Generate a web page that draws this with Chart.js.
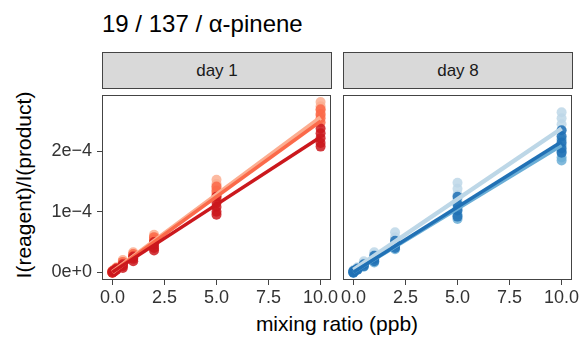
<!DOCTYPE html>
<html>
<head>
<meta charset="utf-8">
<script src="https://cdn.jsdelivr.net/npm/chart.js@4/dist/chart.umd.min.js"></script>
<style>
  body { margin: 0; width: 582px; height: 340px; background: #fff; position: relative; overflow: hidden;
         font-family: "Liberation Sans", Arial, sans-serif; color: #000; }
  .abs { position: absolute; }
  .strip { position: absolute; top: 52px; height: 37px; background: #d9d9d9; border: 1px solid #444;
           box-sizing: border-box; font-size: 17px; color: #1a1a1a; text-align: center; line-height: 36px; }
  canvas { position: absolute; }
</style>
</head>
<body>
<div class="abs" style="left:102px;top:10px;font-size:24px;">19 / 137 / α-pinene</div>
<div class="strip" style="left:102px;width:230px;">day 1</div>
<div class="strip" style="left:343px;width:230px;">day 8</div>
<div class="abs" style="left:0;width:582px;top:312px;text-align:center;font-size:21px;padding-left:92px;box-sizing:border-box;">mixing ratio (ppb)</div>
<div class="abs" style="left:24px;top:185px;font-size:21px;transform:translate(-50%,-50%) rotate(-90deg);white-space:nowrap;">I(reagent)/I(product)</div>
<canvas id="c1" width="340" height="250" style="left:0;top:90px;"></canvas>
<canvas id="c8" width="247" height="250" style="left:335px;top:90px;"></canvas>
<script>
// values in units of 1e-4
const xTicks = [0, 2.5, 5, 7.5, 10];
const yTicks = [0, 1e-4, 2e-4];
const yLabels = ['0e+0', '1e\u22124', '2e\u22124'];

const day1Colors = ['#fcae91', '#fb6a4a', '#cb181d'];
const day8Colors = ['#bdd7e7', '#6baed6', '#2171b5'];

// replicate measurements: [x, y×1e4]
const day1Light = [
  [0,0.02],[0,0],[0,-0.01],[0.1,0.05],[0.1,0.03],[0.2,0.08],[0.2,0.06],
  [0.5,0.2],[0.5,0.17],[0.5,0.14],[1,0.33],[1,0.3],[1,0.27],
  [2,0.62],[2,0.58],[2,0.55],[5,1.53],[5,1.46],[5,1.39],[5,1.32],
  [10,2.82],[10,2.75],[10,2.68],[10,2.6]];
const day1Mid = [
  [0,0.02],[0,0],[0,-0.01],[0.1,0.04],[0.1,0.02],[0.2,0.07],[0.2,0.05],
  [0.5,0.17],[0.5,0.14],[0.5,0.11],[1,0.3],[1,0.27],[1,0.24],
  [2,0.58],[2,0.54],[2,0.5],[5,1.42],[5,1.35],[5,1.28],[5,1.22],
  [10,2.7],[10,2.62],[10,2.55],[10,2.48]];
const day1Dark = [
  [0,0.01],[0,-0.01],[0.1,0.03],[0.1,0.01],[0.2,0.06],[0.2,0.04],
  [0.5,0.13],[0.5,0.1],[0.5,0.07],[1,0.26],[1,0.22],[1,0.18],
  [2,0.5],[2,0.45],[2,0.4],[2,0.36],[5,1.25],[5,1.15],[5,1.08],[5,1.0],[5,0.95],
  [10,2.38],[10,2.3],[10,2.22],[10,2.14],[10,2.08]];
const day8Light = [
  [0,0.03],[0,0.01],[0.1,0.05],[0.2,0.08],[0.5,0.18],[0.5,0.15],
  [1,0.33],[1,0.29],[2,0.66],[2,0.58],[2,0.52],
  [5,1.48],[5,1.38],[5,1.28],[5,1.2],[10,2.65],[10,2.55],[10,2.45],[10,2.35]];
const day8Mid = [
  [0,0.01],[0,-0.01],[0.1,0.03],[0.2,0.05],[0.5,0.12],[0.5,0.09],
  [1,0.24],[1,0.2],[1,0.16],[2,0.48],[2,0.43],[2,0.38],
  [5,1.15],[5,1.05],[5,0.95],[5,0.88],[10,2.2],[10,2.1],[10,2.0],[10,1.9],[10,1.85]];
const day8Dark = [
  [0,0.02],[0,0],[0,-0.01],[0.1,0.03],[0.2,0.06],[0.2,0.04],[0.5,0.13],[0.5,0.1],
  [1,0.27],[1,0.22],[1,0.18],[2,0.52],[2,0.46],[2,0.4],
  [5,1.25],[5,1.12],[5,1.02],[5,0.92],[10,2.35],[10,2.25],[10,2.15],[10,2.05],[10,1.98]];

// fitted lines: [y at x=0, y at x=10] ×1e-4
const day1Fits = [[0.0, 2.56], [0.0, 2.5], [0.0, 2.24]];
const day8Fits = [[0.04, 2.38], [0.0, 2.1], [0.0, 2.16]];

const FONT = '"Liberation Sans", Arial, sans-serif';

function alpha(hex, a) {
  const n = parseInt(hex.slice(1), 16);
  return `rgba(${n >> 16},${(n >> 8) & 255},${n & 255},${a})`;
}

const pts = arr => arr.map(p => ({ x: p[0], y: p[1] * 1e-4 }));

const frame = {
  id: 'frame',
  afterDraw(chart) {
    const a = chart.chartArea, ctx = chart.ctx;
    ctx.save();
    ctx.strokeStyle = '#444';
    ctx.lineWidth = 1;
    ctx.strokeRect(a.left + 0.5, a.top + 0.5, a.right - a.left - 1, a.bottom - a.top - 1);
    ctx.restore();
  },
};

function makePanel(id, series, colors, fits, showY, yWidth, padRight) {
  const datasets = [];
  series.forEach((s, i) => {
    datasets.push({
      type: 'scatter', data: pts(s), order: 10 - i,
      backgroundColor: alpha(colors[i], 0.85), borderWidth: 0, pointRadius: 5,
    });
  });
  fits.forEach((f, i) => {
    datasets.push({
      type: 'line', data: [{ x: 0, y: f[0] * 1e-4 }, { x: 10, y: f[1] * 1e-4 }], order: 3 - i,
      borderColor: colors[i], borderWidth: i === 0 ? 4.5 : 3.5, pointRadius: 0, fill: false,
    });
  });
  return new Chart(document.getElementById(id), {
    type: 'scatter',
    data: { datasets },
    options: {
      responsive: false, animation: false, events: [],
      layout: { padding: { top: 0, left: 0, bottom: 0, right: padRight } },
      plugins: { legend: { display: false }, tooltip: { enabled: false } },
      scales: {
        x: {
          type: 'linear', min: -0.5, max: 10.5,
          afterBuildTicks: s => { s.ticks = xTicks.map(v => ({ value: v })); },
          afterFit: s => { s.height = 60; s.paddingLeft = 0; s.paddingRight = 0; },
          ticks: { color: '#333', font: { family: FONT, size: 18 }, padding: 2, maxRotation: 0,
                   callback: v => v.toFixed(1) },
          grid: { drawOnChartArea: false, drawTicks: true, tickLength: 5, color: '#444' },
          border: { display: false },
        },
        y: {
          type: 'linear', min: -0.13e-4, max: 2.935e-4,
          afterBuildTicks: s => { s.ticks = yTicks.map(v => ({ value: v })); },
          afterFit: s => { s.width = yWidth; s.paddingTop = 0; s.paddingBottom = 0; },
          ticks: { display: showY, color: '#333', font: { family: FONT, size: 18 }, padding: 5,
                   callback: v => yLabels[yTicks.findIndex(t => Math.abs(t - v) < 1e-9)] },
          grid: { display: showY, drawOnChartArea: false, drawTicks: true, tickLength: 5, color: '#444' },
          border: { display: false },
        },
      },
    },
    plugins: [frame],
  });
}

makePanel('c1', [day1Light, day1Mid, day1Dark], day1Colors, day1Fits, true, 102, 9);
makePanel('c8', [day8Light, day8Mid, day8Dark], day8Colors, day8Fits, false, 8, 10);
</script>
</body>
</html>
